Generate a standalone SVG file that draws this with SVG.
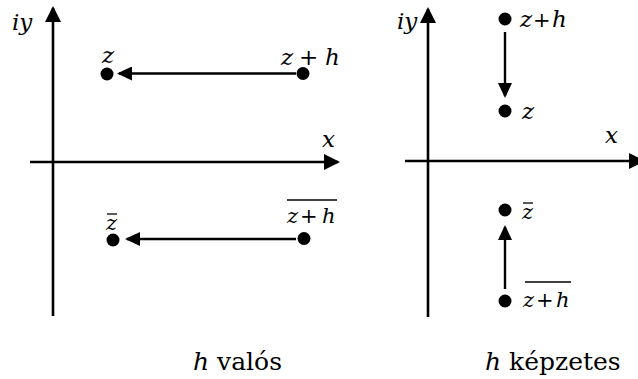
<svg xmlns="http://www.w3.org/2000/svg" width="638" height="379" viewBox="0 0 638 379">
<style>
.ax{stroke:#000;stroke-width:2.6;fill:none}
.cn{stroke:#000;stroke-width:2.4;fill:none}
.dot{fill:#000}
text{font-family:'DejaVu Serif',serif;fill:#000}
.m{font-style:italic;font-size:23px}
.ms{font-style:italic;font-size:21px}
.r{font-size:25px}
.bar{stroke:#000;stroke-width:1.3}
</style>
<defs>
<marker id="axh" markerWidth="16" markerHeight="16" refX="14" refY="8" orient="auto" markerUnits="userSpaceOnUse"><path d="M0,0 L16,8 L0,16 z" fill="#000"/></marker>
<marker id="cnh" markerWidth="15" markerHeight="14" refX="13" refY="7" orient="auto" markerUnits="userSpaceOnUse"><path d="M0,0 L15,7 L0,14 z" fill="#000"/></marker>
</defs>
<rect width="638" height="379" fill="#fff"/>

<g id="axes-left">
<line class="ax" x1="53" y1="316" x2="53" y2="8" marker-end="url(#axh)"/>
<line class="ax" x1="30" y1="162" x2="338" y2="162" marker-end="url(#axh)"/>
<text class="m" x="12" y="30">iy</text>
<text class="m" x="322" y="147">x</text>
</g>

<g id="axes-right">
<line class="ax" x1="428" y1="317" x2="428" y2="9" marker-end="url(#axh)"/>
<line class="ax" x1="405" y1="161" x2="643" y2="161" marker-end="url(#axh)"/>
<text class="m" x="397" y="29">iy</text>
<text class="m" x="605" y="143">x</text>
</g>

<g id="connectors">
<line class="cn" x1="296" y1="73.5" x2="119" y2="73.5" marker-end="url(#cnh)"/>
<line class="cn" x1="296" y1="239" x2="127" y2="239" marker-end="url(#cnh)"/>
<line class="cn" x1="505" y1="32" x2="505" y2="96" marker-end="url(#cnh)"/>
<line class="cn" x1="505" y1="289" x2="505" y2="227" marker-end="url(#cnh)"/>
</g>

<g id="node-z-left">
<circle class="dot" cx="107" cy="74" r="6.5"/>
<text class="m" x="102" y="63">z</text>
</g>
<g id="node-zh-left">
<circle class="dot" cx="303" cy="73.5" r="6.5"/>
<text class="m" y="65"><tspan x="281">z</tspan><tspan x="299" font-style="normal">+</tspan><tspan x="325">h</tspan></text>
</g>
<g id="node-zbar-left">
<circle class="dot" cx="113" cy="240" r="6.5"/>
<text class="ms" x="106" y="230">z</text>
<line class="bar" x1="107" y1="214" x2="117" y2="214"/>
</g>
<g id="node-zhbar-left">
<circle class="dot" cx="304" cy="238.5" r="6.5"/>
<text class="ms" y="223"><tspan x="287">z</tspan><tspan x="300" font-style="normal">+</tspan><tspan x="322">h</tspan></text>
<line class="bar" x1="287" y1="200" x2="337" y2="200"/>
</g>

<g id="node-zh-right">
<circle class="dot" cx="505" cy="19" r="6.5"/>
<text class="m" y="27"><tspan x="520">z</tspan><tspan x="533" font-style="normal" font-size="21">+</tspan><tspan x="552">h</tspan></text>
</g>
<g id="node-z-right">
<circle class="dot" cx="505" cy="111" r="6.5"/>
<text class="m" x="522" y="119">z</text>
</g>
<g id="node-zbar-right">
<circle class="dot" cx="505" cy="210" r="6.5"/>
<text class="ms" x="522" y="219">z</text>
<line class="bar" x1="523" y1="203" x2="533" y2="203"/>
</g>
<g id="node-zhbar-right">
<circle class="dot" cx="505" cy="301" r="6.5"/>
<text class="ms" y="307"><tspan x="523">z</tspan><tspan x="536" font-style="normal">+</tspan><tspan x="556">h</tspan></text>
<line class="bar" x1="525" y1="282" x2="571" y2="282"/>
</g>

<g id="captions">
<text class="r" x="193" y="370"><tspan font-style="italic">h</tspan> valós</text>
<text class="r" x="485" y="370"><tspan font-style="italic">h</tspan> képzetes</text>
</g>
</svg>
